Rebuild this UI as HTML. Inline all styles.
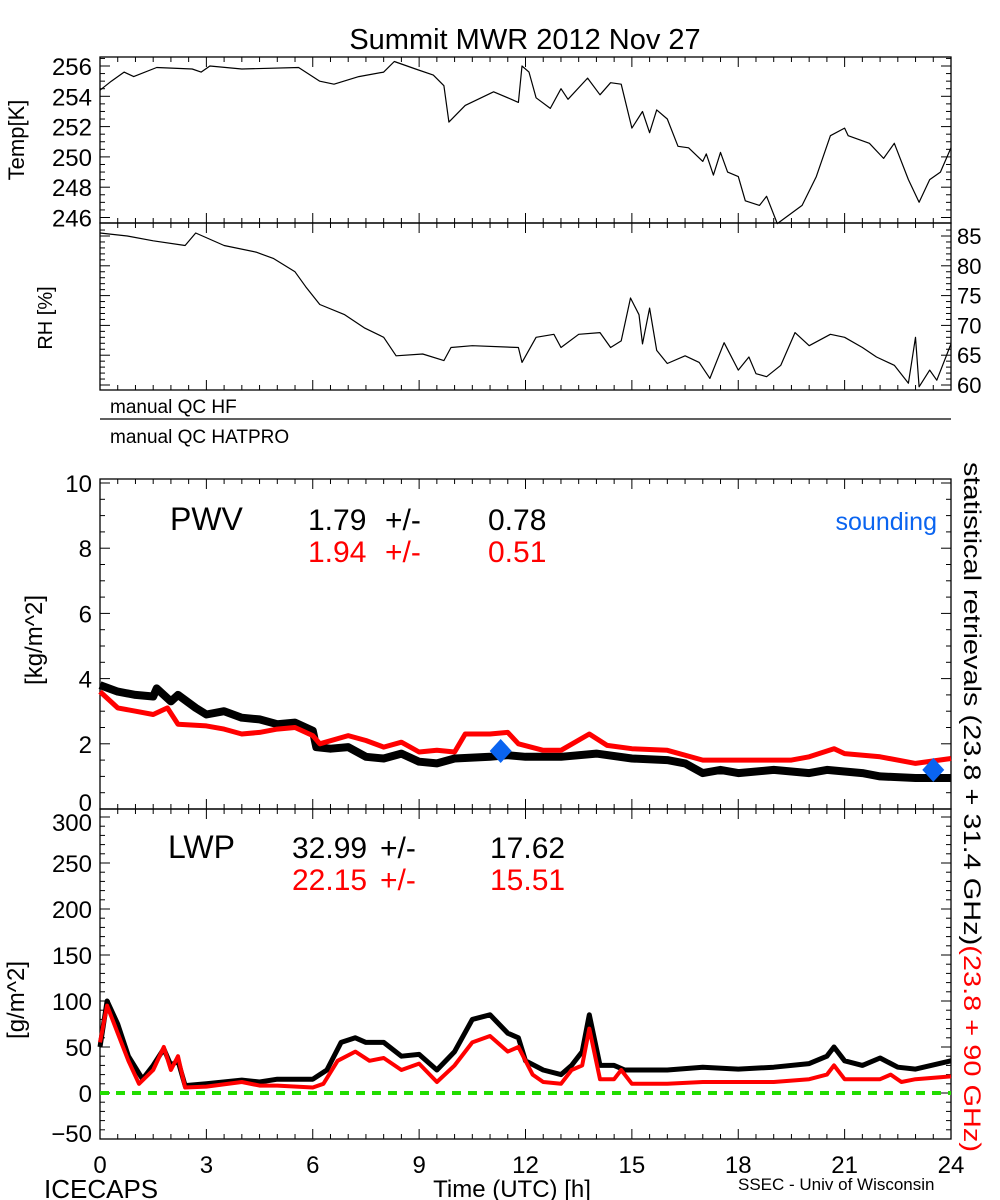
<!DOCTYPE html>
<html><head><meta charset="utf-8"><style>
html,body{margin:0;padding:0;background:#fff;}
svg{display:block;font-family:"Liberation Sans",sans-serif;}
</style></head><body>
<svg id="c" width="1000" height="1200" viewBox="0 0 1000 1200"></svg>
<script>
// ---- data ----
const tempT=[0,0.32,0.68,0.95,1.6,2.6,2.85,3.1,4.0,5.6,6.2,6.6,7.3,8.0,8.3,8.9,9.4,9.7,9.84,10.3,11.1,11.6,11.8,11.9,12.1,12.3,12.7,13.0,13.2,13.75,14.1,14.4,14.7,15.0,15.3,15.5,15.7,16.0,16.3,16.6,17.0,17.1,17.3,17.5,17.7,18.0,18.2,18.6,18.8,19.1,19.8,20.2,20.6,21.0,21.1,21.7,22.1,22.4,22.8,23.1,23.4,23.7,24.0];
const tempV=[254.4,255.0,255.6,255.3,255.9,255.8,255.6,256.0,255.8,255.9,255.0,254.8,255.3,255.6,256.3,255.8,255.4,254.7,252.3,253.4,254.3,253.8,253.6,256.0,255.6,253.9,253.2,254.5,253.8,255.2,254.1,254.9,254.8,251.9,253.0,251.6,253.1,252.5,250.7,250.6,249.7,250.2,248.8,250.3,249.0,248.7,247.1,246.8,247.4,245.6,246.8,248.7,251.4,251.9,251.4,250.9,249.9,250.9,248.5,247.0,248.5,249.0,250.6];
const rhT=[0,0.77,1.5,2.4,2.7,3.5,4.4,4.9,5.5,5.8,6.2,6.9,7.45,8.0,8.35,9.1,9.7,9.9,10.5,11.8,11.9,12.3,12.8,13.0,13.5,14.1,14.4,14.7,14.96,15.2,15.3,15.5,15.7,16.0,16.5,16.9,17.2,17.6,18.0,18.3,18.5,18.8,19.2,19.6,20.0,20.6,21.0,21.5,21.9,22.4,22.8,23.0,23.1,23.4,23.6,24.0];
const rhV=[85.5,85,84.2,83.4,85.5,83.4,82.3,81.2,79.0,76.5,73.5,71.8,69.6,68.0,64.9,65.2,64.1,66.3,66.6,66.3,63.8,68.0,68.5,66.3,68.5,68.8,66.3,67.4,74.6,71.8,66.9,72.9,65.8,63.6,64.9,63.8,61.1,67.1,62.5,64.7,61.9,61.4,63.3,68.8,66.6,68.5,68.0,66.3,64.7,63.3,60.3,68.0,59.7,62.5,60.8,66.9];
const pwvBT=[0,0.5,1,1.5,1.6,2,2.2,2.7,3,3.5,4,4.5,5,5.5,6,6.1,6.5,7,7.5,8,8.5,9,9.5,10,11,11.5,12,13,14,15,16,16.5,17,17.5,18,19,20,20.5,21,21.5,22,23,24];
const pwvB=[3.8,3.6,3.5,3.45,3.7,3.3,3.5,3.1,2.9,3.0,2.8,2.75,2.6,2.65,2.4,1.9,1.85,1.9,1.6,1.55,1.7,1.45,1.4,1.55,1.6,1.65,1.6,1.6,1.7,1.55,1.5,1.4,1.1,1.2,1.1,1.2,1.1,1.2,1.15,1.1,1.0,0.95,0.95];
const pwvRT=[0,0.5,1,1.5,1.9,2.2,3,3.5,4,4.5,5,5.5,6,6.2,7,7.5,8,8.5,9,9.5,10,10.3,11,11.5,11.8,12.5,13,13.8,14.3,15,16,17,18,19,19.5,20,20.7,21,22,23,24];
const pwvR=[3.6,3.1,3.0,2.9,3.1,2.6,2.55,2.45,2.3,2.35,2.45,2.5,2.25,2.0,2.25,2.1,1.9,2.05,1.75,1.8,1.75,2.3,2.3,2.35,2.0,1.8,1.8,2.3,1.95,1.85,1.8,1.5,1.5,1.5,1.5,1.6,1.85,1.7,1.6,1.4,1.55];
const sondT=[11.3,23.5];
const sondV=[1.78,1.2];
const lwpBT=[0,0.2,0.5,0.8,1.2,1.5,1.8,2.0,2.2,2.4,3,4,4.5,5,6,6.4,6.8,7.2,7.5,8,8.5,9,9.5,10,10.5,11,11.5,11.8,12,12.5,13,13.3,13.6,13.8,14.1,14.5,14.8,15,16,17,18,19,20,20.5,20.7,21,21.5,22,22.5,23,24];
const lwpB=[50,100,75,40,15,30,48,30,35,8,10,14,12,15,15,25,55,60,55,55,40,42,25,45,80,85,65,60,35,25,20,30,45,85,30,30,25,25,25,28,26,28,32,40,50,35,30,38,28,26,35];
const lwpRT=[0,0.2,0.5,0.8,1.1,1.5,1.8,2.0,2.2,2.4,3,4,4.5,5,6,6.3,6.7,7.2,7.6,8,8.5,9,9.5,10,10.5,11,11.5,11.8,12.2,12.5,13,13.3,13.6,13.8,14.1,14.5,14.7,15,16,17,18,19,20,20.5,20.7,21,22,22.3,22.6,23,24];
const lwpR=[55,95,65,35,10,25,50,25,40,6,7,12,8,8,6,10,35,45,35,38,25,32,12,30,55,62,45,50,20,12,10,25,30,70,15,15,25,10,10,12,12,12,15,20,30,15,15,20,12,15,18];
const xTicks=[0,3,6,9,12,15,18,21,24];
const tempTicks=[246,248,250,252,254,256];
const rhTicks=[60,65,70,75,80,85];
const pwvTicks=[0,2,4,6,8,10];
const lwpTicks=[-50,0,50,100,150,200,250,300];

// ---- geometry ----
const X0=100,X1=951;
const x=h=>X0+h*(X1-X0)/24;
const yTemp=v=>66+(256-v)*15.15;
const yRH=v=>236+(85-v)*5.96;
const yPWV=v=>809-v*32.6;
const yLWP=v=>1093-v*0.92;
const P={temp:[57,223],rh:[223,390],pwv:[479,809],lwp:[809,1139]};

const svg=document.getElementById('c');
const NS='http://www.w3.org/2000/svg';
function mk(tag,attrs,parent){const e=document.createElementNS(NS,tag);for(const k in attrs)e.setAttribute(k,attrs[k]);(parent||svg).appendChild(e);return e;}
function txt(s,attrs,parent){const e=mk('text',attrs,parent);e.textContent=s;return e;}

function frame(name,top,bot){
  const g=mk('g',{});
  
  
  mk('rect',{x:X0,y:top,width:X1-X0,height:bot-top,fill:'none',stroke:'#000','stroke-width':1.3},g);
  for(let h=0;h<=24;h+=0.5){
    const L=(h%3===0)?10:5;
    mk('line',{x1:x(h),x2:x(h),y1:bot,y2:bot-L,stroke:'#000','stroke-width':1},g);
    mk('line',{x1:x(h),x2:x(h),y1:top,y2:top+L,stroke:'#000','stroke-width':1},g);
  }
  return g;
}
function yticks(g,ticks,fy,minorStep,lo,hi,side,top,bot){
  for(let v=lo;v<=hi+1e-9;v+=minorStep){
    const y=fy(v); if(y<top-0.5||y>bot+0.5) continue;
    const major=ticks.some(t=>Math.abs(t-v)<1e-6);
    const L=major?10:5;
    mk('line',{x1:X0,x2:X0+L,y1:y,y2:y,stroke:'#000'},g);
    mk('line',{x1:X1,x2:X1-L,y1:y,y2:y,stroke:'#000'},g);
  }
}
function series(pts,fy,color,w,name){
  let d='';
  pts[0].forEach((t,i)=>{d+=(i?'L':'M')+x(t).toFixed(1)+','+fy(pts[1][i]).toFixed(1);});
  const p=mk('path',{d:d,fill:'none',stroke:color,'stroke-width':w,'stroke-linejoin':'round'});
  
  
  return p;
}

// title
const title=txt('Summit MWR 2012 Nov 27',{x:525,y:49,'font-size':29,'text-anchor':'middle'});



// temp panel
let g=frame('temp',P.temp[0],P.temp[1]);
yticks(g,tempTicks,yTemp,0.5,245.5,256.5,'l',P.temp[0],P.temp[1]);
tempTicks.forEach(v=>{const e=txt(String(v),{x:92,y:yTemp(v)+9,'font-size':24,'text-anchor':'end'});});
let e=txt('Temp[K]',{x:0,y:0,'font-size':22,'text-anchor':'middle',transform:'translate(24,140) rotate(-90)'});


series([tempT,tempV],yTemp,'#000',1.2,'temp-line');

// rh panel
g=frame('rh',P.rh[0],P.rh[1]);
yticks(g,rhTicks,yRH,1,59,86,'r',P.rh[0],P.rh[1]);
rhTicks.forEach(v=>{const e=txt(String(v),{x:957,y:yRH(v)+8,'font-size':22,'text-anchor':'start'});});
e=txt('RH [%]',{x:0,y:0,'font-size':20,'text-anchor':'middle',transform:'translate(52,318) rotate(-90)'});


series([rhT,rhV],yRH,'#000',1.2,'rh-line');

// QC rows
e=txt('manual QC HF',{x:110,y:413,'font-size':19});


e=mk('line',{x1:X0,x2:X1,y1:419,y2:419,stroke:'#000','stroke-width':1.3});


e=txt('manual QC HATPRO',{x:110,y:443,'font-size':19});



// pwv panel
g=frame('pwv',P.pwv[0],P.pwv[1]);
yticks(g,pwvTicks,yPWV,0.5,0,10,'l',P.pwv[0],P.pwv[1]);
pwvTicks.forEach(v=>{const e=txt(String(v),{x:92,y:yPWV(v)+(v===0?2:9),'font-size':24,'text-anchor':'end'});});
e=txt('[kg/m^2]',{x:0,y:0,'font-size':24,'text-anchor':'middle',transform:'translate(42,640) rotate(-90)'});


series([pwvBT,pwvB],yPWV,'#000',8,'pwv-black-line');
series([pwvRT,pwvR],yPWV,'#ff0000',5,'pwv-red-line');
sondT.forEach((t,i)=>{const cx=x(t),cy=yPWV(sondV[i]);const d=mk('path',{d:`M${cx},${cy-12}L${cx+11},${cy}L${cx},${cy+12}L${cx-11},${cy}Z`,fill:'#0a64f0'});});
e=txt('PWV',{x:170,y:530,'font-size':32});


function stat(parts,xs,y,color,name){
  parts.forEach((s,i)=>{const t=txt(s,{x:xs[i],y:y,'font-size':30,fill:color});
    
    });
}
stat(['1.79','+/-','0.78'],[308,385,488],530,'#000','pwv-stat-black');
stat(['1.94','+/-','0.51'],[308,385,488],562,'#ff0000','pwv-stat-red');
e=txt('sounding',{x:937,y:530,'font-size':25,fill:'#0a64f0','text-anchor':'end'});



// lwp panel
g=frame('lwp',P.lwp[0],P.lwp[1]);
yticks(g,lwpTicks,yLWP,10,-50,300,'l',P.lwp[0],P.lwp[1]);
lwpTicks.forEach(v=>{const e=txt(v<0?'\u2212'+(-v):String(v),{x:92,y:yLWP(v)+(v===-50?3:(v===300?14:9)),'font-size':24,'text-anchor':'end'});});
e=txt('[g/m^2]',{x:0,y:0,'font-size':24,'text-anchor':'middle',transform:'translate(24,1000) rotate(-90)'});


e=mk('line',{x1:X0,x2:X1,y1:yLWP(0),y2:yLWP(0),stroke:'#22dd00','stroke-width':4,'stroke-dasharray':'9,7'});


series([lwpBT,lwpB],yLWP,'#000',5,'lwp-black-line');
series([lwpRT,lwpR],yLWP,'#ff0000',4,'lwp-red-line');
e=txt('LWP',{x:168,y:858,'font-size':32});


stat(['32.99','+/-','17.62'],[292,380,490],858,'#000','lwp-stat-black');
stat(['22.15','+/-','15.51'],[292,380,490],890,'#ff0000','lwp-stat-red');

// x tick labels
xTicks.forEach(h=>{const e=txt(String(h),{x:x(h),y:1173,'font-size':24,'text-anchor':'middle'});});
e=txt('Time (UTC) [h]',{x:512,y:1197,'font-size':24,'text-anchor':'middle'});


e=txt('ICECAPS',{x:44,y:1198,'font-size':26});


e=txt('SSEC - Univ of Wisconsin',{x:738,y:1190,'font-size':17});



// right rotated label
const rt=mk('text',{x:0,y:0,'font-size':24,transform:'translate(964,462) rotate(90)'});


const s1=mk('tspan',{},rt);s1.textContent='statistical retrievals (23.8 + 31.4 GHz)';
const s2=mk('tspan',{fill:'#ff0000'},rt);s2.textContent='(23.8 + 90 GHz)';
rt.setAttribute('textLength','690');
rt.setAttribute('lengthAdjust','spacingAndGlyphs');
</script>
</body></html>
